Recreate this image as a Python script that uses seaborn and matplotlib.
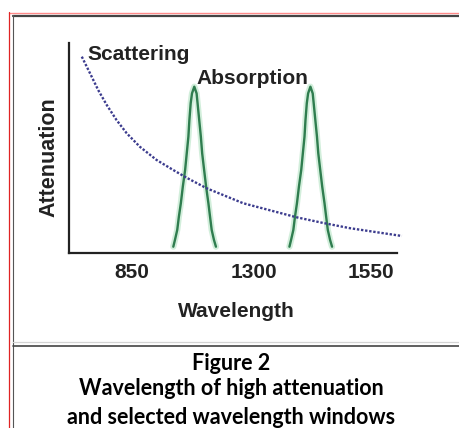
import pandas as pd
import seaborn as sns
import matplotlib.pyplot as plt
from matplotlib.lines import Line2D

# schematic axis units (0-100 on both axes)
tick_pos = [19.2, 56.4, 92.1]
tick_labels = ['850', '1300', '1550']

scat_x = [3.9, 6.4, 8.9, 11.5, 14.5, 17.6, 21.6, 26.7, 31.8, 35.9, 42.0, 53.1, 69.4, 77.5, 85.7, 101.5]
scat_y = [93.5, 85.6, 77.6, 70.5, 63.3, 57.0, 50.6, 44.3, 39.5, 35.8, 30.8, 23.7, 17.0, 14.3, 11.8, 8.1]

peak_y = [3.0, 6.2, 11.0, 17.3, 23.7, 31.6, 39.5, 47.5, 55.4, 63.3, 71.3, 76.0, 79.2,
          76.0, 71.3, 63.3, 55.4, 47.5, 39.5, 31.6, 23.7, 17.3, 11.0, 6.2, 3.0]
peak1_x = [31.8, 32.3, 33.0, 33.5, 34.1, 34.7, 35.4, 35.9, 36.4, 36.7, 37.1, 37.5, 38.2,
           38.9, 39.2, 39.7, 40.2, 40.6, 41.2, 41.8, 42.5, 43.0, 43.5, 44.2, 44.8]
peak2_x = [67.2, 67.7, 68.4, 68.9, 69.5, 70.1, 70.8, 71.3, 71.8, 72.1, 72.5, 72.9, 73.6,
           74.3, 74.6, 75.1, 75.6, 76.0, 76.6, 77.2, 77.9, 78.4, 78.9, 79.6, 80.2]

sns.set_style('white')
plt.rcParams['font.family'] = ['Liberation Sans', 'DejaVu Sans']

fig = plt.figure(figsize=(4.6, 4.28), dpi=100)
fig.patch.set_facecolor('white')
ax = fig.add_axes([69 / 460, 175 / 428, 328 / 460, 210 / 428])

scat = pd.DataFrame({'x': scat_x, 'y': scat_y})
p1 = pd.DataFrame({'x': peak1_x, 'y': peak_y})
p2 = pd.DataFrame({'x': peak2_x, 'y': peak_y})

# green absorption peaks, soft halo + line
for df in (p1, p2):
    sns.lineplot(data=df, x='x', y='y', sort=False, estimator=None, ax=ax,
                 color='#bfe8cc', linewidth=4.5, alpha=0.7)
    sns.lineplot(data=df, x='x', y='y', sort=False, estimator=None, ax=ax,
                 color='#2f7d4f', linewidth=1.7)

sns.lineplot(data=scat, x='x', y='y', sort=False, estimator=None, ax=ax,
             color='#3c3c8e', linewidth=1.7, linestyle=(0, (1, 0.75)))
for ln in ax.lines:
    ln.set_clip_on(False)

ax.set_xlim(0, 100)
ax.set_ylim(0, 100)
ax.set_xticks(tick_pos)
ax.set_xticklabels(tick_labels, fontsize=15, fontweight='bold', color='#222222')
ax.set_yticks([])
ax.tick_params(axis='x', length=0, pad=7)

ax.set_xlabel('Wavelength', fontsize=15, fontweight='bold', color='#222222')
ax.xaxis.set_label_coords(0.509, -0.235)
ax.set_ylabel('Attenuation', fontsize=15.5, fontweight='bold', color='#222222')
ax.yaxis.set_label_coords(-0.028, 0.455)

ax.text(5.5, 91.7, 'Scattering', fontsize=15, fontweight='bold', color='#222222',
        ha='left', va='baseline')
ax.text(39.0, 80.5, 'Absorption', fontsize=15, fontweight='bold', color='#222222',
        ha='left', va='baseline')

sns.despine(ax=ax, top=True, right=True)
for s in ('left', 'bottom'):
    ax.spines[s].set_color('#222222')
    ax.spines[s].set_linewidth(1.6)

# page frame lines (figure pixels)
def hline(y, x0, x1, c, lw):
    fig.add_artist(Line2D([x0 / 460, x1 / 460], [1 - y / 428, 1 - y / 428],
                          color=c, linewidth=lw, transform=fig.transFigure))

def vline(x, y0, y1, c, lw):
    fig.add_artist(Line2D([x / 460, x / 460], [1 - y0 / 428, 1 - y1 / 428],
                          color=c, linewidth=lw, transform=fig.transFigure))

hline(12.5, 9.5, 460, '#ff8a8a', 1.0)
vline(9.5, 12, 428, '#e02424', 0.9)
hline(15.8, 13, 460, '#444444', 1.6)
vline(13.5, 15, 428, '#555555', 0.8)
hline(341.5, 13.5, 460, '#d4d4d4', 0.9)
hline(345.5, 13.5, 460, '#444444', 1.2)

cap = ['Figure 2', 'Wavelength of high attenuation', 'and selected wavelength windows']
cap_base = [370.5, 395, 424]
for t, yb in zip(cap, cap_base):
    fig.text(231 / 460, 1 - yb / 428, t, fontsize=15.5, fontweight='bold',
             family=['Lato', 'DejaVu Sans'], ha='center', va='baseline', color='#000000')

fig.savefig('out.png', dpi=100)
